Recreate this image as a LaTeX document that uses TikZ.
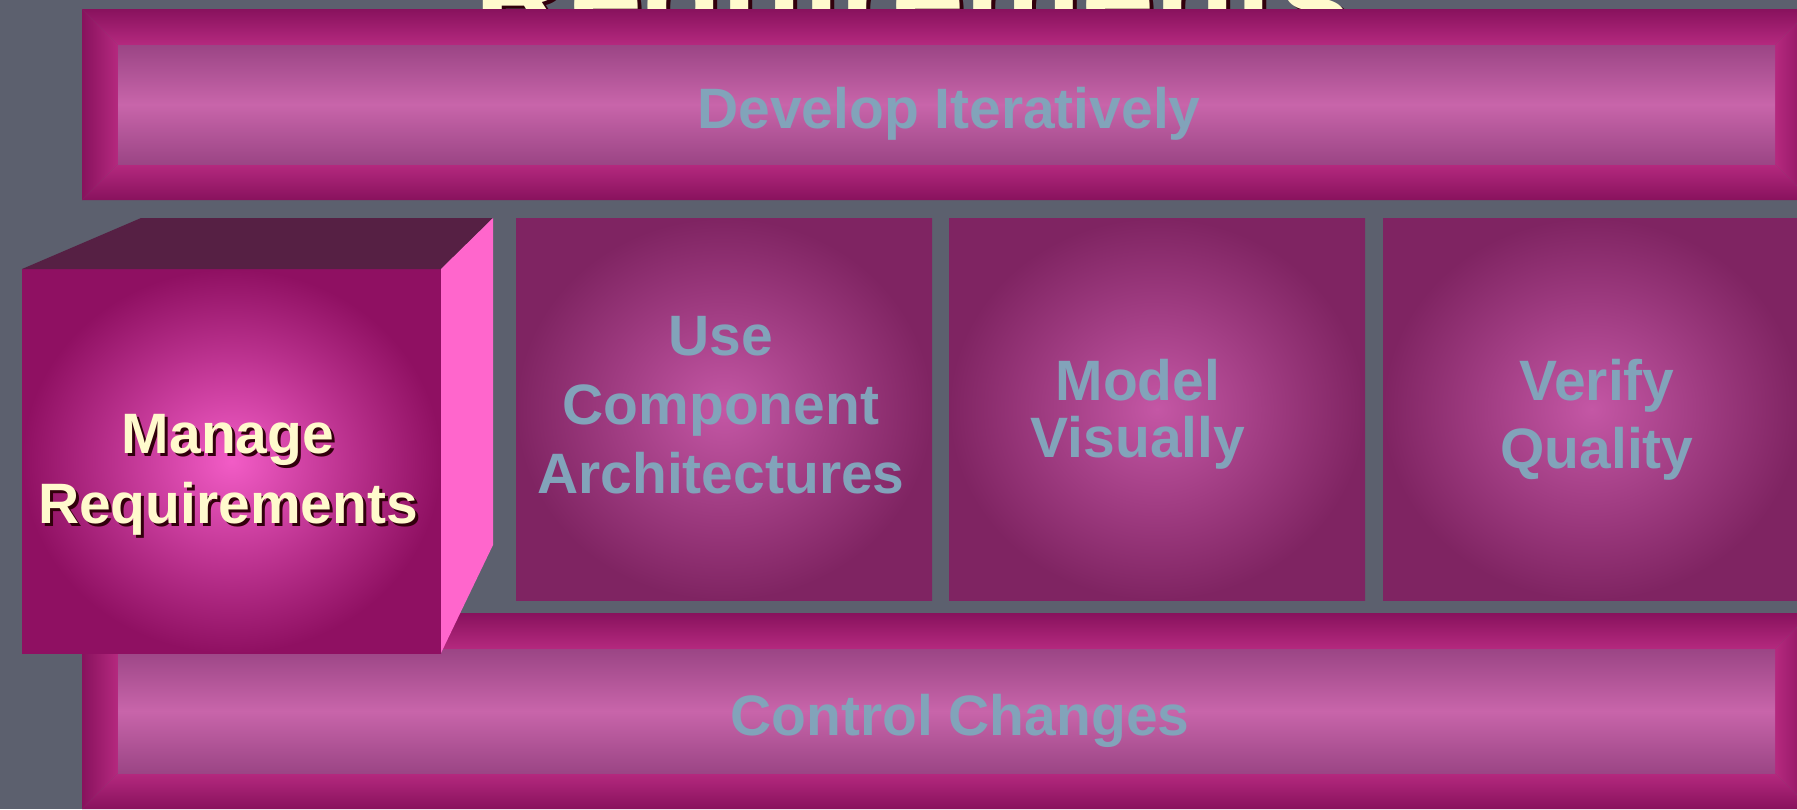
\documentclass[tikz,border=0pt]{standalone}
\usepackage{fontspec}
\setmainfont{Liberation Sans}
\definecolor{slate}{RGB}{92,96,110}
\definecolor{bardark}{RGB}{136,18,93}
\definecolor{barbright}{RGB}{181,41,127}
\definecolor{barin}{RGB}{155,69,133}
\definecolor{barmid}{RGB}{200,101,170}
\definecolor{boxedge}{RGB}{127,36,98}
\definecolor{boxmid}{RGB}{196,87,165}
\definecolor{cubeedge}{RGB}{143,16,98}
\definecolor{cubemid}{RGB}{242,92,198}
\definecolor{cubetop}{RGB}{86,32,68}
\definecolor{cubeside}{RGB}{255,102,204}
\definecolor{lblblue}{RGB}{130,163,186}
\definecolor{cream}{RGB}{255,250,205}
\definecolor{shadowred}{RGB}{50,0,12}

\begin{document}
\begin{tikzpicture}[x=0.01cm,y=-0.01cm,
  lbl/.style={text=lblblue,inner sep=0pt,align=center,font=\bfseries\fontsize{16.2}{19.6}\selectfont},
  cubetxt/.style={text=cream,inner sep=0pt,align=center,font=\bfseries\fontsize{16.2}{19.9}\selectfont},
  titletxt/.style={text=cream,inner sep=0pt,font=\bfseries\fontsize{37.4}{44}\selectfont}]
\useasboundingbox (0,0) rectangle (1797,809);
\clip (0,0) rectangle (1797,809);
\fill[slate] (0,0) rectangle (1797,809);
% title, mostly hidden behind the top bar
\node[titletxt,text=shadowred,anchor=base] (titleshadow) at (917,44) {Requirements};
\node[titletxt,anchor=base] (title) at (913,40) {Requirements};
% bevelled bars
\foreach \ya/\yb in {9/200,613/809}{
\shade[top color=bardark,bottom color=barbright] (82,\ya) -- (1811,\ya) -- (1775,{\ya+36}) -- (118,{\ya+36}) -- cycle;
\shade[top color=barbright,bottom color=bardark] (118,{\yb-36}) -- (1775,{\yb-36}) -- (1811,\yb) -- (82,\yb) -- cycle;
\shade[left color=bardark,right color=barbright] (82,\ya) -- (118,{\ya+36}) -- (118,{\yb-36}) -- (82,\yb) -- cycle;
\shade[left color=barbright,right color=bardark] (1775,{\ya+36}) -- (1811,\ya) -- (1811,\yb) -- (1775,{\yb-36}) -- cycle;
\shade[top color=barin,bottom color=barin,middle color=barmid] (118,{\ya+36}) rectangle (1775,{\yb-36});
}
% the three boxes
\foreach \xa/\xb in {516/932,949/1365,1383/1800}
\shade[inner color=boxmid,outer color=boxedge] (\xa,218) rectangle (\xb,600);
% cube
\shade[inner color=cubemid,outer color=cubeedge] (22,269) rectangle (441,653);
\fill[cubetop] (22,269) -- (141,218) -- (493,218) -- (441,269) -- cycle;
\fill[cubeside] (441,269) -- (493,218) -- (493,545) -- (441,653) -- cycle;
% labels
\node[lbl,anchor=base] (develop) at (949,128) {Develop Iteratively};
\node[lbl] (usecomp) at (721,405) {Use\\Component\\Architectures};
\node[lbl,font=\bfseries\fontsize{16.2}{16.2}\selectfont] (model) at (1138,414) {Model\\Visually};
\node[lbl,font=\bfseries\fontsize{16.2}{19.3}\selectfont] (verify) at (1597,420) {Verify\\Quality};
\node[lbl,anchor=base] (control) at (960,735) {Control Changes};
\node[cubetxt,text=shadowred] (manageshadow) at (231,478) {Manage\\Requirements};
\node[cubetxt] (manage) at (228,475) {Manage\\Requirements};
\end{tikzpicture}
\end{document}
